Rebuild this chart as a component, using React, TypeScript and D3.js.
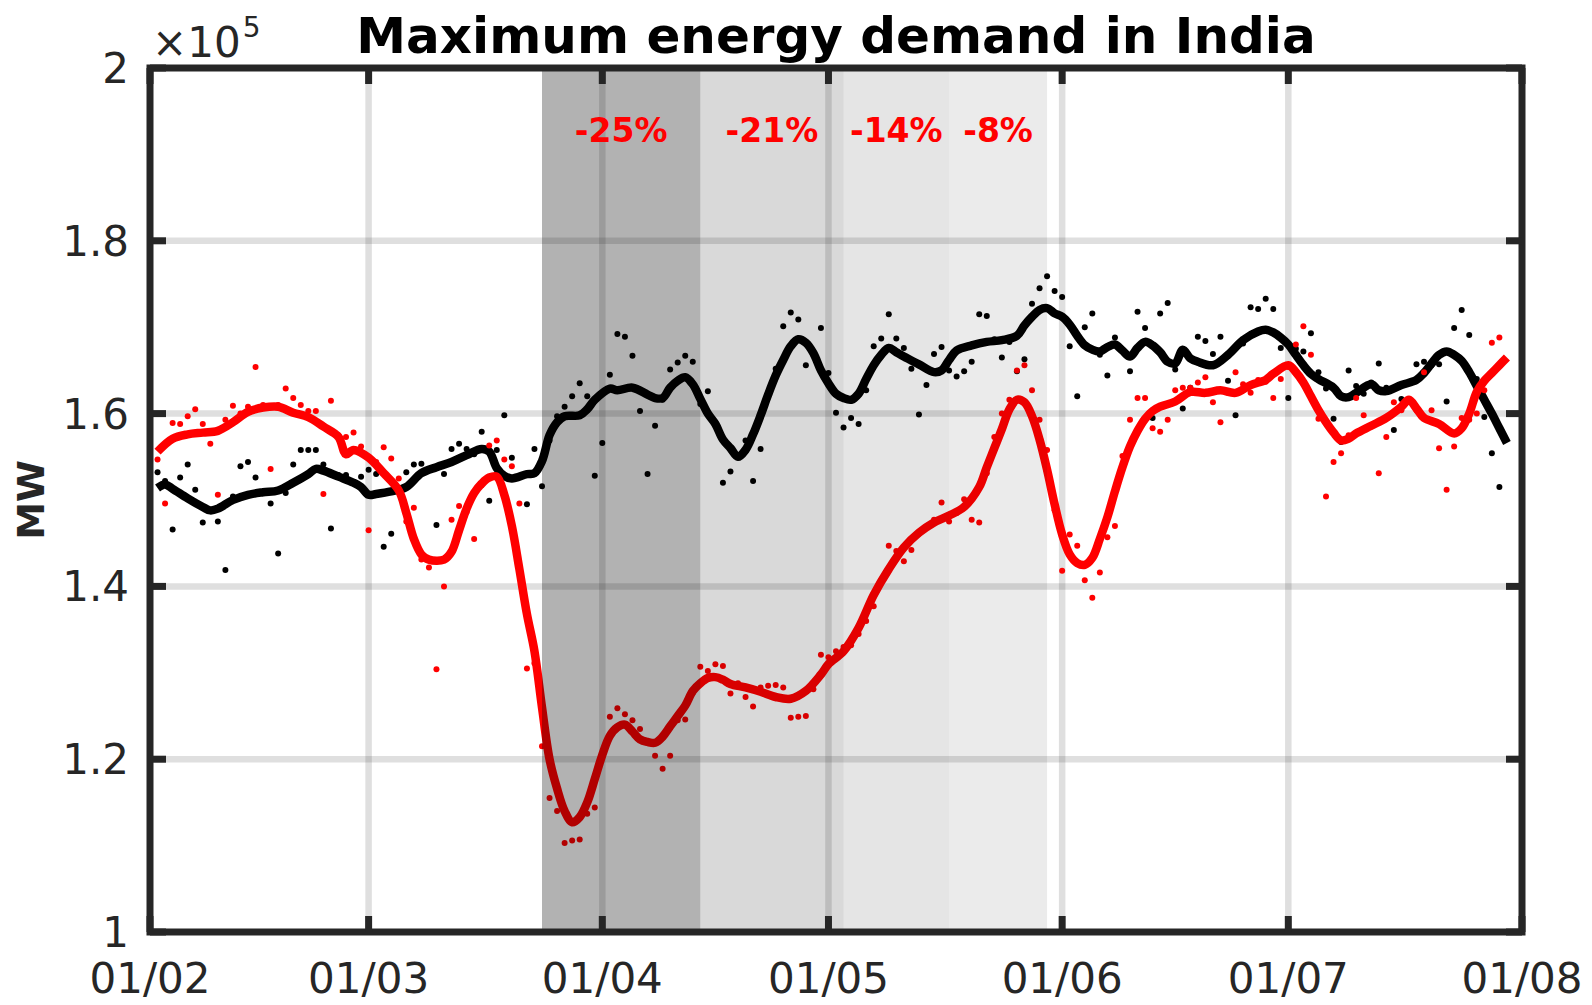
import React, { useEffect, useRef } from 'react';
import * as d3 from 'd3';

// days counted from 1 Feb 2020
const monthTicks = [0, 29, 60, 90, 121, 151, 182];
const monthLabels = ['01/02', '01/03', '01/04', '01/05', '01/06', '01/07', '01/08'];
const yTicks = [1, 1.2, 1.4, 1.6, 1.8, 2];
const yTickLabels = ['1', '1.2', '1.4', '1.6', '1.8', '2'];

// lockdown phases (day boundaries) and the drop in demand
const phaseBounds = [52, 73, 92, 106, 119];
const phaseAlpha = [0.3, 0.15, 0.1, 0.08];
const phaseLabels = ['-25%', '-21%', '-14%', '-8%'];

// daily maximum demand, x1e5 MW, day 1..179
const demand2019 = [
  1.532, 1.522, 1.466, 1.526, 1.541, 1.512, 1.474, 1.488, 1.475, 1.419,
  1.504, 1.539, 1.544, 1.526, 1.508, 1.496, 1.438, 1.508, 1.541, 1.558,
  1.558, 1.558, 1.541, 1.467, 1.529, 1.529, 1.519, 1.527, 1.535, 1.530,
  1.446, 1.461, 1.510, 1.532, 1.541, 1.542, 1.535, 1.471, 1.530, 1.559,
  1.565, 1.559, 1.553, 1.579, 1.499, 1.558, 1.598, 1.549, 1.527, 1.495,
  1.559, 1.516, 1.569, 1.597, 1.608, 1.620, 1.635, 1.620, 1.528, 1.566,
  1.645, 1.692, 1.689, 1.667, 1.603, 1.530, 1.586, 1.616, 1.651, 1.659,
  1.667, 1.660, 1.611, 1.626, 1.589, 1.520, 1.533, 1.550, 1.569, 1.522,
  1.559, 1.620, 1.652, 1.701, 1.717, 1.709, 1.656, 1.668, 1.699, 1.647,
  1.601, 1.584, 1.595, 1.588, 1.627, 1.678, 1.687, 1.715, 1.687, 1.676,
  1.652, 1.599, 1.633, 1.669, 1.677, 1.650, 1.643, 1.649, 1.660, 1.715,
  1.713, 1.686, 1.665, 1.683, 1.649, 1.663, 1.727, 1.745, 1.759, 1.742,
  1.735, 1.678, 1.620, 1.700, 1.716, 1.668, 1.644, 1.688, 1.672, 1.649,
  1.718, 1.699, 1.595, 1.716, 1.728, 1.651, 1.606, 1.630, 1.689, 1.684,
  1.669, 1.689, 1.638, 1.598, 1.681, 1.723, 1.721, 1.733, 1.721, 1.676,
  1.618, 1.675, 1.672, 1.693, 1.648, 1.629, 1.594, 1.567, 1.650, 1.632,
  1.623, 1.636, 1.658, 1.630, 1.581, 1.617, 1.636, 1.657, 1.660, 1.656,
  1.657, 1.614, 1.699, 1.720, 1.691, 1.640, 1.596, 1.554, 1.515,
];

const demand2020 = [
  1.547, 1.496, 1.589, 1.588, 1.597, 1.605, 1.588, 1.565, 1.506, 1.593,
  1.609, 1.600, 1.608, 1.654, 1.610, 1.536, 1.610, 1.629, 1.618, 1.610,
  1.603, 1.603, 1.507, 1.615, 1.575, 1.573, 1.578, 1.562, 1.465, 1.544,
  1.561, 1.548, 1.525, 1.475, 1.491, 1.431, 1.422, 1.304, 1.400, 1.477,
  1.493, 1.486, 1.455, 1.517, 1.563, 1.569, 1.547, 1.539, 1.496, 1.305,
  1.311, 1.215, 1.155, 1.140, 1.103, 1.106, 1.107, 1.137, 1.144, 1.204,
  1.249, 1.259, 1.252, 1.245, 1.235, 1.220, 1.204, 1.189, 1.204, 1.245,
  1.246, 1.277, 1.307, 1.302, 1.310, 1.308, 1.276, 1.288, 1.272, 1.261,
  1.283, 1.285, 1.286, 1.283, 1.248, 1.249, 1.250, 1.281, 1.321, 1.318,
  1.325, 1.330, 1.332, 1.345, 1.360, 1.377, 1.407, 1.447, 1.441, 1.429,
  1.442, 1.461, 1.469, 1.477, 1.497, 1.475, 1.485, 1.501, 1.477, 1.474,
  1.531, 1.573, 1.600, 1.616, 1.650, 1.656, 1.627, 1.593, 1.558, 1.488,
  1.418, 1.460, 1.447, 1.407, 1.387, 1.416, 1.457, 1.470, 1.551, 1.593,
  1.618, 1.618, 1.583, 1.579, 1.593, 1.627, 1.630, 1.630, 1.636, 1.642,
  1.613, 1.590, 1.624, 1.648, 1.634, 1.624, 1.639, 1.637, 1.618, 1.640,
  1.654, 1.680, 1.701, 1.668, 1.594, 1.504, 1.544, 1.554, 1.575, 1.618,
  1.598, 1.585, 1.531, 1.573, 1.613, 1.604, 1.614, 1.604, 1.648, 1.604,
  1.560, 1.512, 1.562, 1.595, 1.593, 1.600, 1.627, 1.682, 1.688,
];

// smoothed curves, [day, x1e5 MW]
const trend2019: [number, number][] = [
  [1, 1.514], [2, 1.518], [3, 1.513], [5, 1.502], [7, 1.492], [8, 1.488], [9, 1.490],
  [11, 1.500], [13, 1.506], [15, 1.509], [17, 1.511], [19, 1.520], [21, 1.530],
  [22, 1.536], [23, 1.534], [25, 1.527], [27, 1.520], [28, 1.515], [29, 1.506],
  [30, 1.507], [32, 1.510], [34, 1.515], [36, 1.531], [38, 1.538], [40, 1.544],
  [42, 1.552], [44, 1.559], [45, 1.556], [46, 1.537], [47, 1.528], [48, 1.525],
  [50, 1.530], [51, 1.531], [52, 1.545], [53, 1.575], [54, 1.590], [55, 1.597],
  [57, 1.598], [58, 1.605], [59, 1.616], [61, 1.629], [62, 1.627], [64, 1.630],
  [66, 1.622], [67, 1.618], [68, 1.618], [69, 1.630], [70, 1.638], [71, 1.642],
  [72, 1.634], [73, 1.617], [74, 1.600], [75, 1.588], [76, 1.570], [77, 1.560],
  [78, 1.550], [79, 1.558], [80, 1.576], [81, 1.598], [82, 1.622], [83, 1.644],
  [84, 1.662], [85, 1.678], [86, 1.686], [87, 1.682], [88, 1.670], [89, 1.650],
  [90, 1.635], [91, 1.623], [92, 1.618], [93, 1.616], [94, 1.623], [95, 1.640],
  [96, 1.656], [97, 1.668], [98, 1.676], [99, 1.671], [100, 1.666], [102, 1.657],
  [104, 1.648], [105, 1.650], [106, 1.662], [107, 1.673], [109, 1.679], [111, 1.683],
  [113, 1.685], [115, 1.690], [116, 1.702], [117, 1.712], [118, 1.720], [119, 1.722],
  [120, 1.716], [121, 1.712], [122, 1.703], [123, 1.690], [124, 1.679], [125, 1.674],
  [126, 1.672], [127, 1.677], [128, 1.680], [129, 1.673], [130, 1.666], [131, 1.676],
  [132, 1.683], [133, 1.679], [134, 1.671], [135, 1.660], [136, 1.658], [137, 1.674],
  [138, 1.664], [139, 1.660], [141, 1.656], [143, 1.668], [145, 1.685], [147, 1.695],
  [148, 1.697], [149, 1.694], [150, 1.688], [151, 1.680], [152, 1.668], [153, 1.656],
  [154, 1.646], [155, 1.640], [157, 1.630], [158, 1.620], [159, 1.619], [160, 1.624],
  [162, 1.634], [163, 1.627], [164, 1.626], [166, 1.633], [168, 1.639], [169, 1.647],
  [170, 1.658], [171, 1.668], [172, 1.672], [173, 1.668], [174, 1.661], [175, 1.648],
  [176, 1.632], [177, 1.616], [178, 1.600], [179, 1.583], [180, 1.566],
];

const trend2020: [number, number][] = [
  [1, 1.556], [3, 1.571], [5, 1.576], [7, 1.578], [9, 1.580], [11, 1.590], [13, 1.602],
  [15, 1.607], [17, 1.608], [19, 1.601], [21, 1.596], [23, 1.585], [25, 1.573],
  [26, 1.553], [27, 1.558], [29, 1.549], [31, 1.531], [33, 1.511], [34, 1.485],
  [35, 1.455], [36, 1.437], [37, 1.431], [39, 1.431], [40, 1.440], [41, 1.465],
  [42, 1.490], [43, 1.508], [44, 1.519], [45, 1.526], [46, 1.527], [47, 1.506],
  [48, 1.470], [49, 1.420], [50, 1.368], [51, 1.325], [52, 1.260], [53, 1.200],
  [54, 1.166], [55, 1.140], [56, 1.127], [57, 1.133], [58, 1.150], [59, 1.177],
  [60, 1.205], [61, 1.227], [62, 1.237], [63, 1.240], [64, 1.232], [65, 1.223],
  [66, 1.220], [67, 1.219], [68, 1.226], [69, 1.238], [70, 1.250], [71, 1.262],
  [72, 1.279], [73, 1.288], [74, 1.294], [75, 1.295], [76, 1.292], [77, 1.287],
  [79, 1.283], [81, 1.278], [83, 1.272], [85, 1.270], [87, 1.279], [89, 1.298],
  [90, 1.310], [92, 1.325], [94, 1.352], [96, 1.390], [98, 1.420], [100, 1.445],
  [102, 1.462], [104, 1.474], [106, 1.482], [108, 1.492], [110, 1.515], [111, 1.538],
  [112, 1.560], [113, 1.582], [114, 1.605], [115, 1.616], [116, 1.613], [117, 1.597],
  [118, 1.570], [119, 1.535], [120, 1.495], [121, 1.460], [122, 1.437], [123, 1.427],
  [124, 1.425], [125, 1.433], [126, 1.455], [127, 1.480], [128, 1.510], [129, 1.538],
  [130, 1.562], [131, 1.580], [132, 1.594], [133, 1.603], [134, 1.608], [136, 1.614],
  [138, 1.625], [140, 1.624], [142, 1.627], [144, 1.624], [146, 1.633], [148, 1.639],
  [149, 1.646], [151, 1.656], [152, 1.648], [153, 1.636], [154, 1.620], [155, 1.604],
  [156, 1.590], [157, 1.578], [158, 1.569], [159, 1.571], [160, 1.577], [162, 1.586],
  [164, 1.595], [166, 1.608], [167, 1.616], [168, 1.606], [169, 1.595], [171, 1.588],
  [173, 1.577], [174, 1.583], [175, 1.600], [176, 1.625], [177, 1.638], [178, 1.647],
  [179, 1.656], [180, 1.665],
];

const W = 1592;
const H = 1005;
const AXIS = '#262626';
const FONT = 'DejaVu Sans, sans-serif';

const App: React.FC = () => {
  const svgRef = useRef<SVGSVGElement>(null);

  useEffect(() => {
    if (!svgRef.current) return;
    const svg = d3.select(svgRef.current);
    svg.selectAll('*').remove();

    const m = { left: 150, right: 70, top: 68, bottom: 73 };
    const x = d3.scaleLinear().domain([0, 182]).range([m.left, W - m.right]);
    const y = d3.scaleLinear().domain([1, 2]).range([H - m.bottom, m.top]);
    const [x0, x1] = x.range();
    const [y0, y1] = y.range();

    svg.append('rect').attr('width', W).attr('height', H).attr('fill', '#fff');

    // grid
    const grid = svg.append('g').attr('stroke', AXIS).attr('stroke-opacity', 0.15).attr('stroke-width', 6.5);
    monthTicks.slice(1, -1).forEach(d => {
      grid.append('line').attr('x1', x(d)).attr('x2', x(d)).attr('y1', y1).attr('y2', y0);
    });
    yTicks.slice(1, -1).forEach(v => {
      grid.append('line').attr('x1', x0).attr('x2', x1).attr('y1', y(v)).attr('y2', y(v));
    });

    const line = d3.line<[number, number]>()
      .x(d => x(d[0]))
      .y(d => y(d[1]))
      .curve(d3.curveCatmullRom.alpha(0.5));

    // 2019 (black)
    svg.append('g').selectAll('circle')
      .data(demand2019)
      .enter()
      .append('circle')
      .attr('cx', (_, i) => x(i + 1))
      .attr('cy', d => y(d))
      .attr('r', 3)
      .attr('fill', '#000');
    svg.append('path')
      .datum(trend2019)
      .attr('fill', 'none')
      .attr('stroke', '#000')
      .attr('stroke-width', 8.5)
      .attr('stroke-linejoin', 'round')
      .attr('d', line);

    // 2020 (red)
    svg.append('g').selectAll('circle')
      .data(demand2020)
      .enter()
      .append('circle')
      .attr('cx', (_, i) => x(i + 1))
      .attr('cy', d => y(d))
      .attr('r', 3)
      .attr('fill', '#ff0000');
    svg.append('path')
      .datum(trend2020)
      .attr('fill', 'none')
      .attr('stroke', '#ff0000')
      .attr('stroke-width', 8.5)
      .attr('stroke-linejoin', 'round')
      .attr('d', line);

    // lockdown shading, drawn over the data
    phaseAlpha.forEach((a, i) => {
      svg.append('rect')
        .attr('x', x(phaseBounds[i]))
        .attr('width', x(phaseBounds[i + 1]) - x(phaseBounds[i]))
        .attr('y', y1)
        .attr('height', y0 - y1)
        .attr('fill', '#000')
        .attr('fill-opacity', a);
    });

    phaseLabels.forEach((t, i) => {
      svg.append('text')
        .attr('x', x((phaseBounds[i] + phaseBounds[i + 1]) / 2))
        .attr('y', 142)
        .attr('text-anchor', 'middle')
        .attr('font-family', FONT)
        .attr('font-weight', 'bold')
        .attr('font-size', 33)
        .attr('fill', '#ff0000')
        .text(t);
    });

    // axes box and ticks
    const ax = svg.append('g').attr('stroke', AXIS).attr('stroke-width', 7);
    ax.append('rect')
      .attr('x', x0).attr('y', y1)
      .attr('width', x1 - x0).attr('height', y0 - y1)
      .attr('fill', 'none');
    const tl = 16;
    monthTicks.forEach(d => {
      ax.append('line').attr('x1', x(d)).attr('x2', x(d)).attr('y1', y0).attr('y2', y0 - tl);
      ax.append('line').attr('x1', x(d)).attr('x2', x(d)).attr('y1', y1).attr('y2', y1 + tl);
    });
    yTicks.forEach(v => {
      ax.append('line').attr('x1', x0).attr('x2', x0 + tl).attr('y1', y(v)).attr('y2', y(v));
      ax.append('line').attr('x1', x1).attr('x2', x1 - tl).attr('y1', y(v)).attr('y2', y(v));
    });

    const labels = svg.append('g')
      .attr('font-family', FONT)
      .attr('font-size', 42)
      .attr('fill', AXIS);
    monthTicks.forEach((d, i) => {
      labels.append('text')
        .attr('x', x(d))
        .attr('y', y0 + 61)
        .attr('text-anchor', 'middle')
        .text(monthLabels[i]);
    });
    yTicks.forEach((v, i) => {
      labels.append('text')
        .attr('x', x0 - 21)
        .attr('y', y(v) + 15)
        .attr('text-anchor', 'end')
        .text(yTickLabels[i]);
    });

    // exponent
    const exp = labels.append('text').attr('x', x0 + 2).attr('y', 57);
    exp.append('tspan').text('\u00d710');
    exp.append('tspan').attr('font-size', 28).attr('dy', -20).attr('dx', 2).text('5');

    // y label
    svg.append('text')
      .attr('transform', `translate(44,${(y0 + y1) / 2}) rotate(-90)`)
      .attr('text-anchor', 'middle')
      .attr('font-family', FONT)
      .attr('font-weight', 'bold')
      .attr('font-size', 38)
      .attr('fill', AXIS)
      .text('MW');

    // title
    svg.append('text')
      .attr('x', (x0 + x1) / 2)
      .attr('y', 53)
      .attr('text-anchor', 'middle')
      .attr('font-family', FONT)
      .attr('font-weight', 'bold')
      .attr('font-size', 50)
      .attr('fill', '#000')
      .text('Maximum energy demand in India');
  }, []);

  return (
    <svg
      ref={svgRef}
      width={W}
      height={H}
      style={{ position: 'absolute', left: 0, top: 0, display: 'block' }}
    />
  );
};

export default App;
